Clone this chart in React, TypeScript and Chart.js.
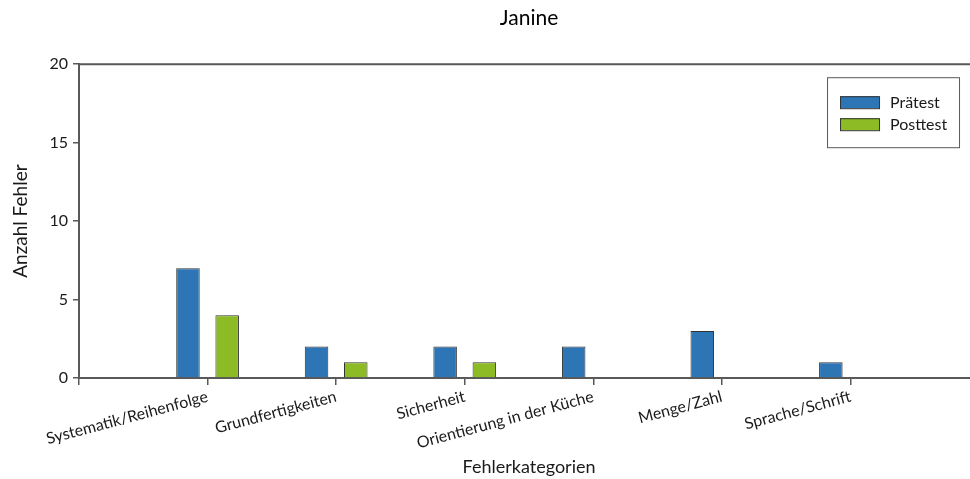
import React, { useEffect, useRef } from 'react';
import { Chart, registerables } from 'chart.js';

Chart.register(...registerables);

const chartTitle = 'Janine';
const xTitle = 'Fehlerkategorien';
const yTitle = 'Anzahl Fehler';
const categories = [
  'Systematik/Reihenfolge',
  'Grundfertigkeiten',
  'Sicherheit',
  'Orientierung in der Küche',
  'Menge/Zahl',
  'Sprache/Schrift',
];
const praetest = [7, 2, 2, 2, 3, 1];
const posttest = [4, 1, 1, 0, 0, 0];
const seriesNames = ['Prätest', 'Posttest'];
const yMin = 0;
const yMax = 20;
const yStep = 5;

const FONT = 'Lato, "Open Sans", sans-serif';
const AXIS = '#595959';
const TEXT = '#1a1a1a';

export default function App() {
  const ref = useRef<HTMLCanvasElement>(null);

  useEffect(() => {
    document.body.style.margin = '0';
    const canvas = ref.current;
    if (!canvas) return;

    const boxLegend = {
      id: 'boxLegend',
      afterDraw(chart: any) {
        const { ctx, chartArea } = chart;
        ctx.save();
        // top frame line
        ctx.strokeStyle = AXIS;
        ctx.lineWidth = 2;
        ctx.beginPath();
        ctx.moveTo(chartArea.left - 1, chartArea.top);
        ctx.lineTo(chartArea.right, chartArea.top);
        ctx.stroke();
        // legend box
        const w = 132;
        const h = 70;
        const x0 = chartArea.right - 20 - w;
        const top = chartArea.top + 13;
        ctx.lineWidth = 1;
        ctx.strokeStyle = AXIS;
        ctx.strokeRect(x0 + 0.5, top + 0.5, w, h);
        chart.data.datasets.forEach((ds: any, i: number) => {
          const y = top + 19 + i * 22;
          ctx.fillStyle = ds.backgroundColor;
          ctx.fillRect(x0 + 13, y, 39, 12);
          ctx.strokeStyle = ds.borderColor;
          ctx.strokeRect(x0 + 13.5, y + 0.5, 39, 12);
          ctx.fillStyle = TEXT;
          ctx.font = `16px ${FONT}`;
          ctx.textBaseline = 'middle';
          ctx.textAlign = 'left';
          ctx.fillText(ds.label, x0 + 63, y + 6.5);
        });
        ctx.restore();
      },
    };

    const chart = new Chart(canvas, {
      type: 'bar',
      data: {
        datasets: [
          {
            label: seriesNames[0],
            data: categories.map((_, i) => ({ x: i + 1, y: praetest[i] })),
            backgroundColor: '#2E75B6',
            borderColor: '#333333',
            borderWidth: 1,
          },
          {
            label: seriesNames[1],
            data: categories.map((_, i) => ({ x: i + 1, y: posttest[i] })),
            backgroundColor: '#8DBB26',
            borderColor: '#333333',
            borderWidth: 1,
          },
        ],
      },
      options: {
        responsive: false,
        animation: false,
        layout: { padding: { left: 0, right: 5, top: 0, bottom: 0 } },
        datasets: { bar: { categoryPercentage: 0.61, barPercentage: 0.6 } } as any,
        plugins: {
          legend: { display: false },
          tooltip: { enabled: false },
          title: {
            display: true,
            text: chartTitle,
            fullSize: false,
            color: '#000',
            font: { family: FONT, size: 21, weight: 'normal' },
            padding: { top: 6, bottom: 33 },
          },
        },
        scales: {
          x: {
            type: 'linear',
            min: 0,
            max: categories.length + 1,
            offset: false,
            afterBuildTicks: (s: any) => {
              s.ticks = Array.from({ length: categories.length + 2 }, (_, i) => ({ value: i }));
            },
            afterFit: (s: any) => {
              s.height = 101;
            },
            ticks: {
              autoSkip: false,
              minRotation: 15,
              maxRotation: 15,
              padding: 2,
              color: TEXT,
              font: { family: FONT, size: 16 },
              callback: (v: any) => categories[Number(v) - 1] ?? '',
            },
            grid: {
              display: true,
              drawOnChartArea: false,
              drawTicks: true,
              tickLength: 7,
              color: AXIS,
              lineWidth: 1.5,
              offset: false,
            },
            border: { display: true, color: AXIS, width: 2 },
            title: {
              display: true,
              text: xTitle,
              color: TEXT,
              font: { family: FONT, size: 18 },
              padding: { top: 4, bottom: 1 },
            },
          } as any,
          y: {
            min: yMin,
            max: yMax,
            afterFit: (s: any) => {
              s.width = 79;
            },
            ticks: {
              stepSize: yStep,
              padding: 5,
              color: TEXT,
              font: { family: FONT, size: 16 },
            },
            grid: {
              display: true,
              drawOnChartArea: false,
              drawTicks: true,
              tickLength: 6,
              color: AXIS,
              lineWidth: 1.5,
            },
            border: { display: true, color: AXIS, width: 2 },
            title: {
              display: true,
              text: yTitle,
              color: TEXT,
              font: { family: FONT, size: 19 },
              padding: { top: 9, bottom: 0 },
            },
          } as any,
        },
      },
      plugins: [boxLegend],
    });

    return () => chart.destroy();
  }, []);

  return (
    <div style={{ width: 970, height: 479, overflow: 'hidden' }}>
      <canvas ref={ref} width={986} height={479} style={{ display: 'block', width: 986, height: 479 }} />
    </div>
  );
}
